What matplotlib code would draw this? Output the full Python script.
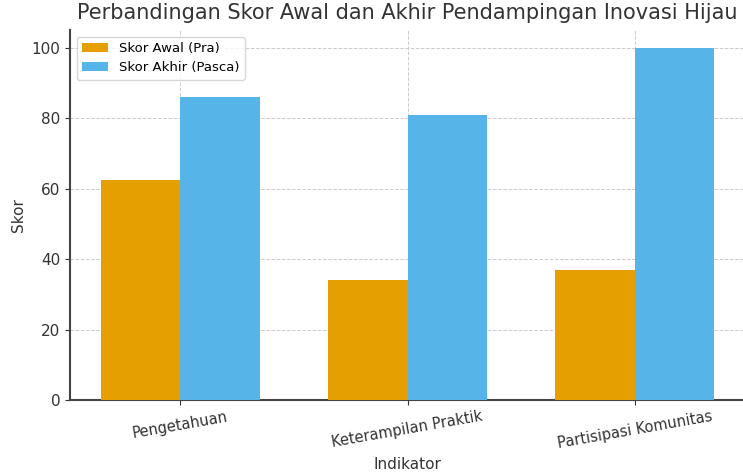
import matplotlib
matplotlib.use("Agg")
import matplotlib.pyplot as plt
import numpy as np

categories = ["Pengetahuan", "Keterampilan Praktik", "Partisipasi Komunitas"]
skor_awal = [62.5, 34, 37]
skor_akhir = [86, 81, 100]
series_labels = ["Skor Awal (Pra)", "Skor Akhir (Pasca)"]

fig = plt.figure(figsize=(7.43, 4.72), dpi=100)
ax = fig.add_axes([70/743, 72/472, 675/743, 370/472])

x = np.arange(len(categories))
w = 0.35
ax.bar(x - w/2, skor_awal, w, color="#E69F00", label=series_labels[0], zorder=3)
ax.bar(x + w/2, skor_akhir, w, color="#56B4E9", label=series_labels[1], zorder=3)

ax.set_xticks(x)
ax.set_xticklabels(categories, rotation=10, fontsize=10.5, color="#333333")
ax.set_ylim(0, 105)
ax.set_yticks([0, 20, 40, 60, 80, 100])
ax.tick_params(axis="y", labelsize=11, colors="#333333")
ax.tick_params(axis="x", colors="#333333", pad=3)
ax.grid(True, linestyle="--", color="#cccccc", linewidth=0.7, zorder=0)
for s in ["top", "right"]:
    ax.spines[s].set_visible(False)
for s in ["left", "bottom"]:
    ax.spines[s].set_color("#444444")
    ax.spines[s].set_linewidth(1.5)

ax.set_title("Perbandingan Skor Awal dan Akhir Pendampingan Inovasi Hijau",
             fontsize=15, color="#333333", pad=8)
ax.set_ylabel("Skor", fontsize=11, color="#333333")
ax.set_xlabel("Indikator", fontsize=11, color="#333333")
ax.xaxis.set_label_coords(0.5, -0.155)
ax.legend(loc="upper left", fontsize=9.5, framealpha=0.8)

fig.savefig("out.png", dpi=100)
